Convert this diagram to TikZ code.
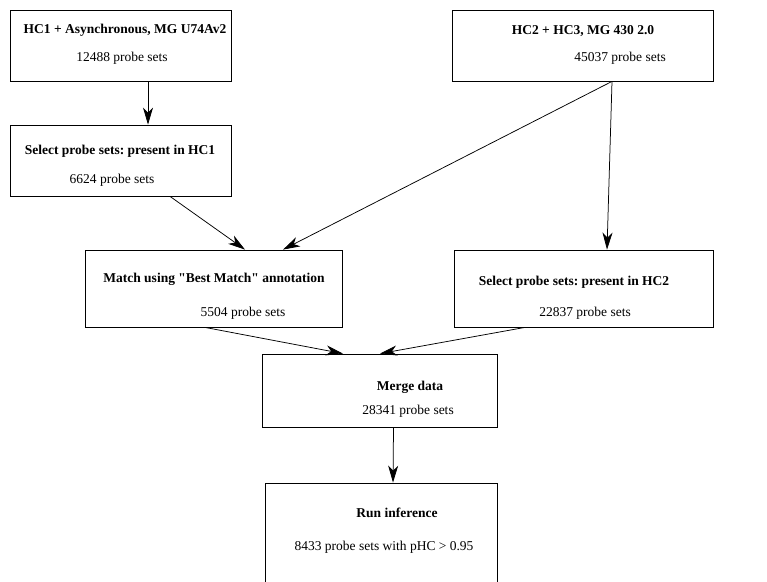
\documentclass[tikz,border=0pt]{standalone}
\usepackage{fontspec}
\setmainfont{Liberation Serif}[Ligatures=TeXOff]
\usetikzlibrary{arrows.meta}
\frenchspacing

\tikzset{
  box/.style={draw, line width=0.8pt, minimum width=#1, minimum height=72pt, inner sep=0pt},
  boxtitle/.style={font=\fontsize{13.5}{16}\selectfont\bfseries, inner sep=0pt},
  boxcount/.style={font=\fontsize{13.5}{16}\selectfont, inner sep=0pt},
  arr/.style={-{Stealth[length=17pt, width=10pt, inset=5pt]}, line width=0.75pt}
}

\begin{document}
\begin{tikzpicture}[x=1pt, y=-1pt]
\useasboundingbox (0,0) rectangle (767,581);

% 方框
\node[box=221pt, minimum height=71pt] (hc1) at (120.5,45.5) {};
\node[box=261pt, minimum height=71pt] (hc2) at (582.5,45.5) {};
\node[box=221pt, minimum height=71pt] (sel1) at (120.5,160.5) {};
\node[box=257pt, minimum height=77pt] (match) at (213.5,288.5) {};
\node[box=259pt, minimum height=77pt] (sel2) at (583.5,288.5) {};
\node[box=235pt, minimum height=73pt] (merge) at (379.5,390.5) {};
\node[box=232pt, minimum height=104pt] (run) at (381,535) {};

% 文字
\node[boxtitle] (hc1title) at (125,30) {HC1 + Asynchronous, MG U74Av2};
\node[boxcount] (hc1count) at (122,58) {12488 probe sets};
\node[boxtitle] (hc2title) at (583,31) {HC2 + HC3, MG 430 2.0};
\node[boxcount] (hc2count) at (620,58) {45037 probe sets};
\node[boxtitle] (sel1title) at (120,151) {Select probe sets: present in HC1};
\node[boxcount] (sel1count) at (112,180) {6624 probe sets};
\node[boxtitle] (matchtitle) at (214,279) {Match using "Best Match" annotation};
\node[boxcount] (matchcount) at (243,313) {5504 probe sets};
\node[boxtitle] (sel2title) at (574,282) {Select probe sets: present in HC2};
\node[boxcount] (sel2count) at (585,313) {22837 probe sets};
\node[boxtitle] (mergetitle) at (410,387) {Merge data};
\node[boxcount] (mergecount) at (408,411) {28341 probe sets};
\node[boxtitle] (runtitle) at (397,513) {Run inference};
\node[boxcount] (runcount) at (384,547) {8433 probe sets with pHC > 0.95};

% 箭头
\draw[arr] ([xshift=27.5pt]hc1.south) -- ([xshift=27.5pt]sel1.north);
\draw[arr] ([xshift=29.5pt]hc2.south) -- ([xshift=69.5pt]match.north);
\draw[arr] ([xshift=29.5pt]hc2.south) -- ([xshift=23.5pt]sel2.north);
\draw[arr] ([xshift=49.5pt]sel1.south) -- ([xshift=31.5pt]match.north);
\draw[arr] ([xshift=-8.5pt]match.south) -- ([xshift=-36.5pt]merge.north);
\draw[arr] ([xshift=-58.5pt]sel2.south) -- ([xshift=0.5pt]merge.north);
\draw[arr] ([xshift=14pt]merge.south) -- ([xshift=12pt]run.north);
\end{tikzpicture}
\end{document}
